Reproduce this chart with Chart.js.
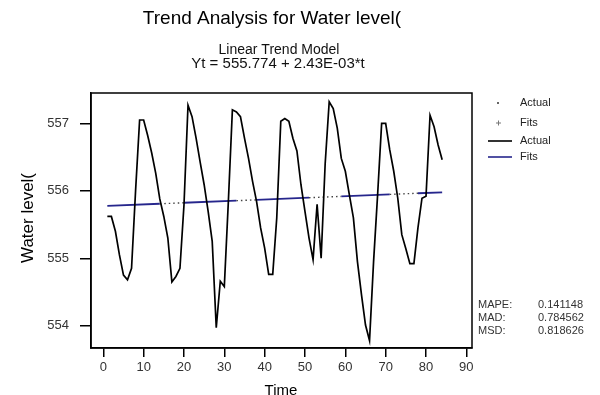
<!DOCTYPE html>
<html>
<head>
<meta charset="utf-8">
<script src="https://cdn.jsdelivr.net/npm/chart.js@4"></script>
<style>
  html, body { margin: 0; padding: 0; background: #fff; }
  #wrap { width: 600px; height: 395px; position: relative; }
</style>
</head>
<body>
<div id="wrap"><canvas id="myChart" width="600" height="395"></canvas></div>
<script>
// time index of each observation
const timeIdx = [1, 2, 3, 4, 5, 6, 7, 8, 9, 10, 11, 12, 13, 14, 15, 16, 17, 18, 19, 20,
  21, 22, 23, 24, 25, 26, 27, 28, 29, 30, 31, 32, 33, 34, 35, 36, 37, 38, 39, 40,
  41, 42, 43, 44, 45, 46, 47, 48, 49, 50, 51, 52, 53, 54, 55, 56, 57, 58, 59, 60,
  61, 62, 63, 64, 65, 66, 67, 68, 69, 70, 71, 72, 73, 74, 75, 76, 77, 78, 79, 80,
  81, 82, 83, 84];

// water level
const actualLevel = [555.62, 555.62, 555.40, 555.05, 554.75, 554.68, 554.85, 556.00, 557.05, 557.05,
  556.82, 556.56, 556.26, 555.88, 555.62, 555.30, 554.65, 554.73, 554.85, 555.79,
  557.27, 557.10, 556.78, 556.43, 556.09, 555.69, 555.25, 553.97, 554.66, 554.58,
  555.84, 557.20, 557.17, 557.10, 556.78, 556.48, 556.14, 555.84, 555.45, 555.15,
  554.76, 554.76, 555.60, 557.03, 557.07, 557.03, 556.78, 556.59, 556.09, 555.69,
  555.30, 554.98, 555.80, 555.00, 556.40, 557.32, 557.22, 556.93, 556.48, 556.29,
  555.94, 555.60, 554.95, 554.46, 554.01, 553.78, 554.95, 555.94, 557.00, 557.00,
  556.61, 556.29, 555.89, 555.35, 555.14, 554.92, 554.92, 555.45, 555.89, 555.92,
  557.12, 556.95, 556.68, 556.46];

// fitted trend line, read at the points where its look changes
const fitTime = [1, 14, 20, 33, 38, 51, 59, 71, 78, 84];
const fitLevel = [555.776, 555.808, 555.823, 555.854, 555.866, 555.898, 555.917, 555.947, 555.964, 555.978];

const xTickValues = [0, 10, 20, 30, 40, 50, 60, 70, 80, 90];
const yTickValues = [554, 555, 556, 557];

const chartTitle = 'Trend Analysis for Water level(';
const modelName = 'Linear Trend Model';
const modelEquation = 'Yt = 555.774 + 2.43E-03*t';
const xTitle = 'Time';
const yTitle = 'Water level(';
const legendNames = ['Actual', 'Fits', 'Actual', 'Fits'];
const accuracyNames = ['MAPE:', 'MAD:', 'MSD:'];
const accuracyValues = ['0.141148', '0.784562', '0.818626'];

const FONT = '"Liberation Sans", Arial, sans-serif';
const NAVY = '#26268c';

function toPoints(xs, ys) {
  return xs.map((x, i) => ({ x: x, y: ys[i] }));
}

const extras = {
  id: 'extras',
  afterDraw(chart) {
    const ctx = chart.ctx;
    const a = chart.chartArea;
    ctx.save();

    // frame
    ctx.strokeStyle = '#000';
    ctx.lineWidth = 1.5;
    ctx.strokeRect(a.left, a.top, a.right - a.left, a.bottom - a.top);

    // titles
    ctx.fillStyle = '#000';
    ctx.textAlign = 'center';
    ctx.textBaseline = 'middle';
    ctx.font = '19px ' + FONT;
    ctx.fillText(chartTitle, 272, 19);
    ctx.fillStyle = '#111';
    ctx.font = '14px ' + FONT;
    ctx.fillText(modelName, 279, 50);
    ctx.font = '15px ' + FONT;
    ctx.fillText(modelEquation, 278, 64);

    ctx.fillStyle = '#000';
    ctx.font = '15px ' + FONT;
    ctx.fillText(xTitle, 281, 391);
    ctx.save();
    ctx.translate(28, 218);
    ctx.rotate(-Math.PI / 2);
    ctx.font = '17px ' + FONT;
    ctx.fillText(yTitle, 0, 0);
    ctx.restore();

    // legend
    ctx.textAlign = 'left';
    ctx.font = '11px ' + FONT;
    ctx.fillStyle = '#222';
    const rows = [103, 123, 141, 157];
    legendNames.forEach((name, i) => ctx.fillText(name, 520, rows[i]));
    ctx.fillStyle = '#666';
    ctx.fillRect(497, rows[0] - 1, 2, 2);
    ctx.strokeStyle = '#777';
    ctx.lineWidth = 1;
    ctx.beginPath();
    ctx.moveTo(496, rows[1]); ctx.lineTo(501, rows[1]);
    ctx.moveTo(498.5, rows[1] - 2.5); ctx.lineTo(498.5, rows[1] + 2.5);
    ctx.stroke();
    ctx.lineWidth = 1.6;
    ctx.strokeStyle = '#000';
    ctx.beginPath(); ctx.moveTo(488, rows[2]); ctx.lineTo(512, rows[2]); ctx.stroke();
    ctx.strokeStyle = NAVY;
    ctx.beginPath(); ctx.moveTo(488, rows[3]); ctx.lineTo(512, rows[3]); ctx.stroke();

    // accuracy measures
    ctx.fillStyle = '#333';
    const statRows = [305, 318, 331];
    accuracyNames.forEach((name, i) => {
      ctx.fillText(name, 478, statRows[i]);
      ctx.fillText(accuracyValues[i], 538, statRows[i]);
    });

    ctx.restore();
  }
};

const config = {
  type: 'line',
  data: {
    datasets: [
      {
        label: 'Actual',
        data: toPoints(timeIdx, actualLevel),
        borderColor: '#000',
        borderWidth: 1.7,
        pointRadius: 0,
        tension: 0
      },
      {
        label: 'Fits',
        data: toPoints(fitTime, fitLevel),
        borderColor: NAVY,
        borderWidth: 1.8,
        pointRadius: 0,
        tension: 0,
        segment: {
          borderColor: (c) => (c.p0DataIndex % 2 ? '#444' : NAVY),
          borderDash: (c) => (c.p0DataIndex % 2 ? [1.5, 3] : undefined),
          borderWidth: (c) => (c.p0DataIndex % 2 ? 1.4 : 1.8)
        }
      }
    ]
  },
  options: {
    responsive: false,
    animation: false,
    devicePixelRatio: 1,
    layout: { padding: { left: 0, right: 128, top: 93, bottom: 0 } },
    plugins: {
      legend: { display: false },
      title: { display: false },
      tooltip: { enabled: false }
    },
    scales: {
      x: {
        type: 'linear',
        min: -3.05,
        max: 91.4,
        afterBuildTicks: (s) => { s.ticks = xTickValues.map((v) => ({ value: v })); },
        afterFit: (s) => { s.height = 47; },
        grid: { drawOnChartArea: false, drawTicks: true, tickLength: 9, color: '#000', lineWidth: 1.5 },
        border: { display: true, color: '#000', width: 1.5 },
        ticks: { color: '#333', font: { family: FONT, size: 13 }, padding: 3, maxRotation: 0 }
      },
      y: {
        type: 'linear',
        min: 553.67,
        max: 557.45,
        afterBuildTicks: (s) => { s.ticks = yTickValues.map((v) => ({ value: v })); },
        afterFit: (s) => { s.width = 91; },
        grid: { drawOnChartArea: false, drawTicks: true, tickLength: 11, color: '#000', lineWidth: 1.5 },
        border: { display: true, color: '#000', width: 1.5 },
        ticks: { color: '#333', font: { family: FONT, size: 13 }, padding: 11 }
      }
    }
  },
  plugins: [extras]
};

document.addEventListener('DOMContentLoaded', () => {
  new Chart(document.querySelector('#myChart'), config);
});
</script>
</body>
</html>
